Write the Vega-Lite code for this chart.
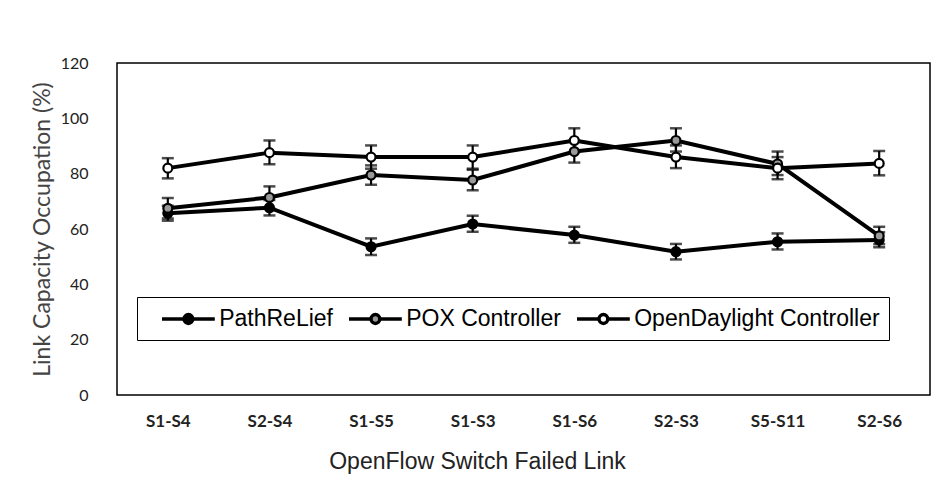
{
  "$schema": "https://vega.github.io/schema/vega-lite/v6.json",
  "width": 813,
  "height": 332,
  "autosize": "none",
  "padding": {"left": 117, "top": 63, "right": 20, "bottom": 101},
  "background": "white",
  "config": {
    "view": {"stroke": "black", "strokeWidth": 1.5},
    "axis": {"grid": false, "domain": false, "ticks": false}
  },
  "data": {
    "values": [
      {"link": "S1-S4", "series": "PathReLief", "value": 65.7, "lo": 63.0, "hi": 68.4},
      {"link": "S2-S4", "series": "PathReLief", "value": 67.7, "lo": 64.9, "hi": 70.5},
      {"link": "S1-S5", "series": "PathReLief", "value": 53.6, "lo": 50.6, "hi": 56.6},
      {"link": "S1-S3", "series": "PathReLief", "value": 61.8, "lo": 59.0, "hi": 64.8},
      {"link": "S1-S6", "series": "PathReLief", "value": 57.8, "lo": 55.0, "hi": 60.8},
      {"link": "S2-S3", "series": "PathReLief", "value": 51.8, "lo": 49.0, "hi": 54.6},
      {"link": "S5-S11", "series": "PathReLief", "value": 55.4, "lo": 52.6, "hi": 58.4},
      {"link": "S2-S6", "series": "PathReLief", "value": 56.0, "lo": 53.4, "hi": 58.8},
      {"link": "S1-S4", "series": "POX Controller", "value": 67.5, "lo": 63.8, "hi": 71.2},
      {"link": "S2-S4", "series": "POX Controller", "value": 71.4, "lo": 67.4, "hi": 75.4},
      {"link": "S1-S5", "series": "POX Controller", "value": 79.5, "lo": 76.0, "hi": 83.0},
      {"link": "S1-S3", "series": "POX Controller", "value": 77.7, "lo": 74.0, "hi": 81.4},
      {"link": "S1-S6", "series": "POX Controller", "value": 88.0, "lo": 84.0, "hi": 92.0},
      {"link": "S2-S3", "series": "POX Controller", "value": 92.0, "lo": 88.0, "hi": 96.4},
      {"link": "S5-S11", "series": "POX Controller", "value": 83.5, "lo": 79.5, "hi": 88.0},
      {"link": "S2-S6", "series": "POX Controller", "value": 57.5, "lo": 54.5, "hi": 60.8},
      {"link": "S1-S4", "series": "OpenDaylight Controller", "value": 82.0, "lo": 78.3, "hi": 85.6},
      {"link": "S2-S4", "series": "OpenDaylight Controller", "value": 87.6, "lo": 83.4, "hi": 92.0},
      {"link": "S1-S5", "series": "OpenDaylight Controller", "value": 86.0, "lo": 81.8, "hi": 90.2},
      {"link": "S1-S3", "series": "OpenDaylight Controller", "value": 86.0, "lo": 81.8, "hi": 90.2},
      {"link": "S1-S6", "series": "OpenDaylight Controller", "value": 92.0, "lo": 87.8, "hi": 96.4},
      {"link": "S2-S3", "series": "OpenDaylight Controller", "value": 86.0, "lo": 82.0, "hi": 90.2},
      {"link": "S5-S11", "series": "OpenDaylight Controller", "value": 82.0, "lo": 78.0, "hi": 86.0},
      {"link": "S2-S6", "series": "OpenDaylight Controller", "value": 83.7, "lo": 79.4, "hi": 88.2}
    ]
  },
  "encoding": {
    "x": {
      "field": "link",
      "type": "nominal",
      "sort": ["S1-S4", "S2-S4", "S1-S5", "S1-S3", "S1-S6", "S2-S3", "S5-S11", "S2-S6"],
      "scale": {"type": "point", "padding": 0.5},
      "axis": {
        "title": "OpenFlow Switch Failed Link",
        "labelAngle": 0,
        "labelPadding": 18,
        "labelFont": "Lato",
        "labelFontWeight": "bold",
        "labelFontSize": 17,
        "labelColor": "#222222",
        "titleFont": "Liberation Sans",
        "titleFontWeight": "normal",
        "titleFontSize": 23,
        "titleColor": "#222222",
        "titlePadding": 21,
        "titleX": 360,
        "titleAlign": "center"
      }
    }
  },
  "layer": [
    {
      "mark": {"type": "line", "color": "black", "strokeWidth": 4},
      "encoding": {
        "y": {
          "field": "value",
          "type": "quantitative",
          "scale": {"domain": [0, 120]},
          "axis": {
            "title": "Link Capacity Occupation (%)",
            "values": [0, 20, 40, 60, 80, 100, 120],
            "labelPadding": 29,
            "labelFont": "Lato",
            "labelFontSize": 16,
            "labelColor": "#222222",
            "titleFont": "Lato",
            "titleFontWeight": "normal",
            "titleFontSize": 23,
            "titleColor": "#444444",
            "titlePadding": 6
          }
        },
        "detail": {"field": "series"}
      }
    },
    {
      "mark": {"type": "rule", "color": "black", "strokeWidth": 2.2},
      "encoding": {
        "y": {"field": "lo", "type": "quantitative"},
        "y2": {"field": "hi"},
        "detail": {"field": "series"}
      }
    },
    {
      "mark": {"type": "tick", "color": "black", "size": 12, "thickness": 2.5},
      "encoding": {
        "y": {"field": "lo", "type": "quantitative"},
        "detail": {"field": "series"}
      }
    },
    {
      "mark": {"type": "tick", "color": "black", "size": 12, "thickness": 2.5},
      "encoding": {
        "y": {"field": "hi", "type": "quantitative"},
        "detail": {"field": "series"}
      }
    },
    {
      "mark": {"type": "point", "filled": true, "stroke": "black", "strokeWidth": 2.2, "size": 80, "opacity": 1},
      "encoding": {
        "y": {"field": "value", "type": "quantitative"},
        "fill": {
          "field": "series",
          "type": "nominal",
          "scale": {
            "domain": ["PathReLief", "POX Controller", "OpenDaylight Controller"],
            "range": ["black", "#999999", "white"]
          },
          "legend": {
            "title": null,
            "orient": "none",
            "legendX": 20,
            "legendY": 234,
            "direction": "horizontal",
            "strokeColor": "black",
            "padding": 9,
            "symbolType": "M-2.4,0L-0.4,0M0.4,0L2.4,0M0.4,0A0.4,0.4,0,1,1,-0.4,0A0.4,0.4,0,1,1,0.4,0Z",
            "symbolSize": 484,
            "symbolStrokeWidth": 3.5,
            "symbolStrokeColor": "black",
            "symbolOffset": 29.4,
            "labelOffset": 17.8,
            "columnPadding": -6,
            "labelFont": "Liberation Sans",
            "labelFontSize": 23,
            "labelColor": "black",
            "labelLimit": 400
          }
        }
      }
    }
  ]
}
